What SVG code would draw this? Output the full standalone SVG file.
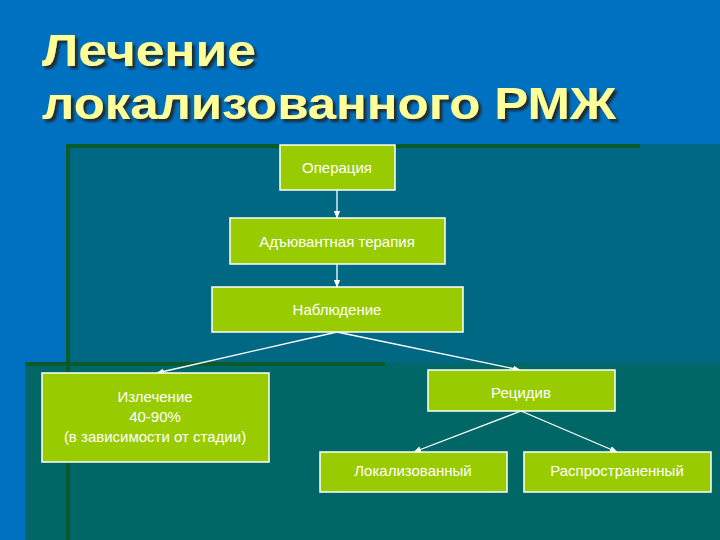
<svg xmlns="http://www.w3.org/2000/svg" width="720" height="540" viewBox="0 0 720 540">
<defs>
<style>
.n{fill:#99CC00;stroke:#fff;stroke-width:1.5}
.t{fill:#fff;font-family:"Liberation Sans",Arial,sans-serif;font-size:15px;text-anchor:middle}
.c{stroke:#fff;stroke-width:1.3;fill:none;marker-end:url(#a)}
.h{font-family:"Liberation Sans",Arial,sans-serif;font-size:44px;font-weight:bold;fill:#FFFF99;filter:url(#s)}
</style>
<filter id="s" x="-5%" y="-20%" width="110%" height="140%"><feDropShadow dx="3" dy="3" stdDeviation="0.8" flood-color="#222" flood-opacity="0.9"/></filter>
<marker id="a" viewBox="0 0 10 10" refX="9" refY="5" markerWidth="6" markerHeight="6" orient="auto"><path d="M0,1 L10,5 L0,9 z" fill="#fff"/></marker>
</defs>
<rect width="720" height="540" fill="#0070C0"/>
<rect x="66" y="144" width="654" height="220" fill="#006882"/>
<rect x="25" y="363" width="695" height="177" fill="#006666"/>
<rect x="66" y="144" width="574" height="4" fill="#0B5A2A"/>
<rect x="66" y="144" width="4" height="396" fill="#0B5A2A"/>
<rect x="25" y="362" width="360" height="4" fill="#0B5A2A"/>
<text class="h" x="42" y="66" textLength="214" lengthAdjust="spacingAndGlyphs">Лечение</text>
<text class="h" x="42" y="119" textLength="574" lengthAdjust="spacingAndGlyphs">локализованного РМЖ</text>
<g id="connectors">
<line class="c" x1="337" y1="190" x2="337" y2="218"/>
<line class="c" x1="337" y1="264" x2="337" y2="287"/>
<line class="c" x1="337" y1="332" x2="157" y2="373"/>
<line class="c" x1="337" y1="332" x2="520" y2="370"/>
<line class="c" x1="521" y1="411" x2="414" y2="452"/>
<line class="c" x1="521" y1="411" x2="617" y2="452"/>
</g>
<g id="op"><rect class="n" x="280" y="145" width="115" height="45"/><text class="t" x="337" y="173">Операция</text></g>
<g id="adj"><rect class="n" x="230" y="218" width="215" height="46"/><text class="t" x="337" y="247">Адъювантная терапия</text></g>
<g id="obs"><rect class="n" x="212" y="287" width="251" height="45"/><text class="t" x="337" y="315">Наблюдение</text></g>
<g id="cure"><rect class="n" x="42" y="373" width="227" height="89"/><text class="t" x="155" y="402">Излечение</text><text class="t" x="155" y="422">40-90%</text><text class="t" x="155" y="442">(в зависимости от стадии)</text></g>
<g id="rel"><rect class="n" x="428" y="370" width="187" height="41"/><text class="t" x="521" y="398">Рецидив</text></g>
<g id="loc"><rect class="n" x="320" y="452" width="187" height="40"/><text class="t" x="413" y="476">Локализованный</text></g>
<g id="dist"><rect class="n" x="524" y="452" width="187" height="40"/><text class="t" x="617" y="476">Распространенный</text></g>
</svg>
